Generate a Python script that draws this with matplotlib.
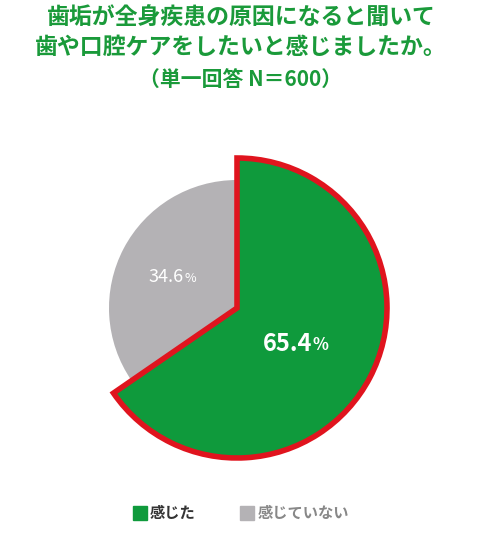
import matplotlib
matplotlib.use("Agg")
import matplotlib.pyplot as plt
import numpy as np

plt.rcParams['font.family'] = ['Noto Sans CJK JP', 'DejaVu Sans']

categories = ["感じた", "感じていない"]
values = [65.4, 34.6]
colors = ["#0f9a3c", "#b4b2b5"]
radii = [150, 128]
title_lines = ["歯垢が全身疾患の原因になると聞いて", "歯や口腔ケアをしたいと感じましたか。", "（単一回答 N＝600）"]

W, H = 500, 560
fig = plt.figure(figsize=(W/100, H/100), dpi=100)
cx, cy = 237, 308
ax = fig.add_axes([(cx-200)/W, (H-cy-200)/H, 400/W, 400/H])

start = 90
for i, (v, c, r) in enumerate(zip(values, colors, radii)):
    wedges, _ = ax.pie([v, 100-v], startangle=start, counterclock=False, radius=r,
                       colors=[c, 'none'], center=(0, 0), frame=True,
                       wedgeprops=dict(edgecolor='none'))
    wedges[1].set_visible(False)
    if i == 0:
        wedges[0].set_edgecolor('#e0141e'); wedges[0].set_linewidth(4); wedges[0].set_zorder(3)
    mid = np.deg2rad(start - v*3.6/2)
    tr = r*0.52
    x, y = tr*np.cos(mid), tr*np.sin(mid)
    big = 17 if i == 0 else 13
    w = 'bold' if i == 0 else 'normal'
    ax.text(x+6, y, f"{v}", ha='right', va='center', color='white', fontsize=big, fontweight=w, zorder=5)
    ax.text(x+6, y-1, "%", ha='left', va='center', color='white', fontsize=big*0.7, fontweight=w, zorder=5)
    start -= v*3.6
ax.set_xlim(-200, 200); ax.set_ylim(-200, 200); ax.set_aspect('equal'); ax.axis('off')

for ty, t in zip([18, 47, 80], title_lines):
    fig.text(0.482, 1-ty/H, t, ha='center', va='center', color='#1a9a3a',
             fontsize=16.5 if ty < 70 else 15, fontweight='bold')

legend_x = [(133, 150), (240, 258)]
for (sx, tx), lab, c in zip(legend_x, categories, colors):
    fig.patches.append(plt.Rectangle((sx/W, 1-520/H), 14/W, 14/H, color=c, transform=fig.transFigure))
    fig.text(tx/W, 1-513/H, lab, ha='left', va='center', color='#888888' if c != colors[0] else '#333333',
             fontsize=11, fontweight='bold')

fig.savefig("out.png", dpi=100, facecolor='white')
